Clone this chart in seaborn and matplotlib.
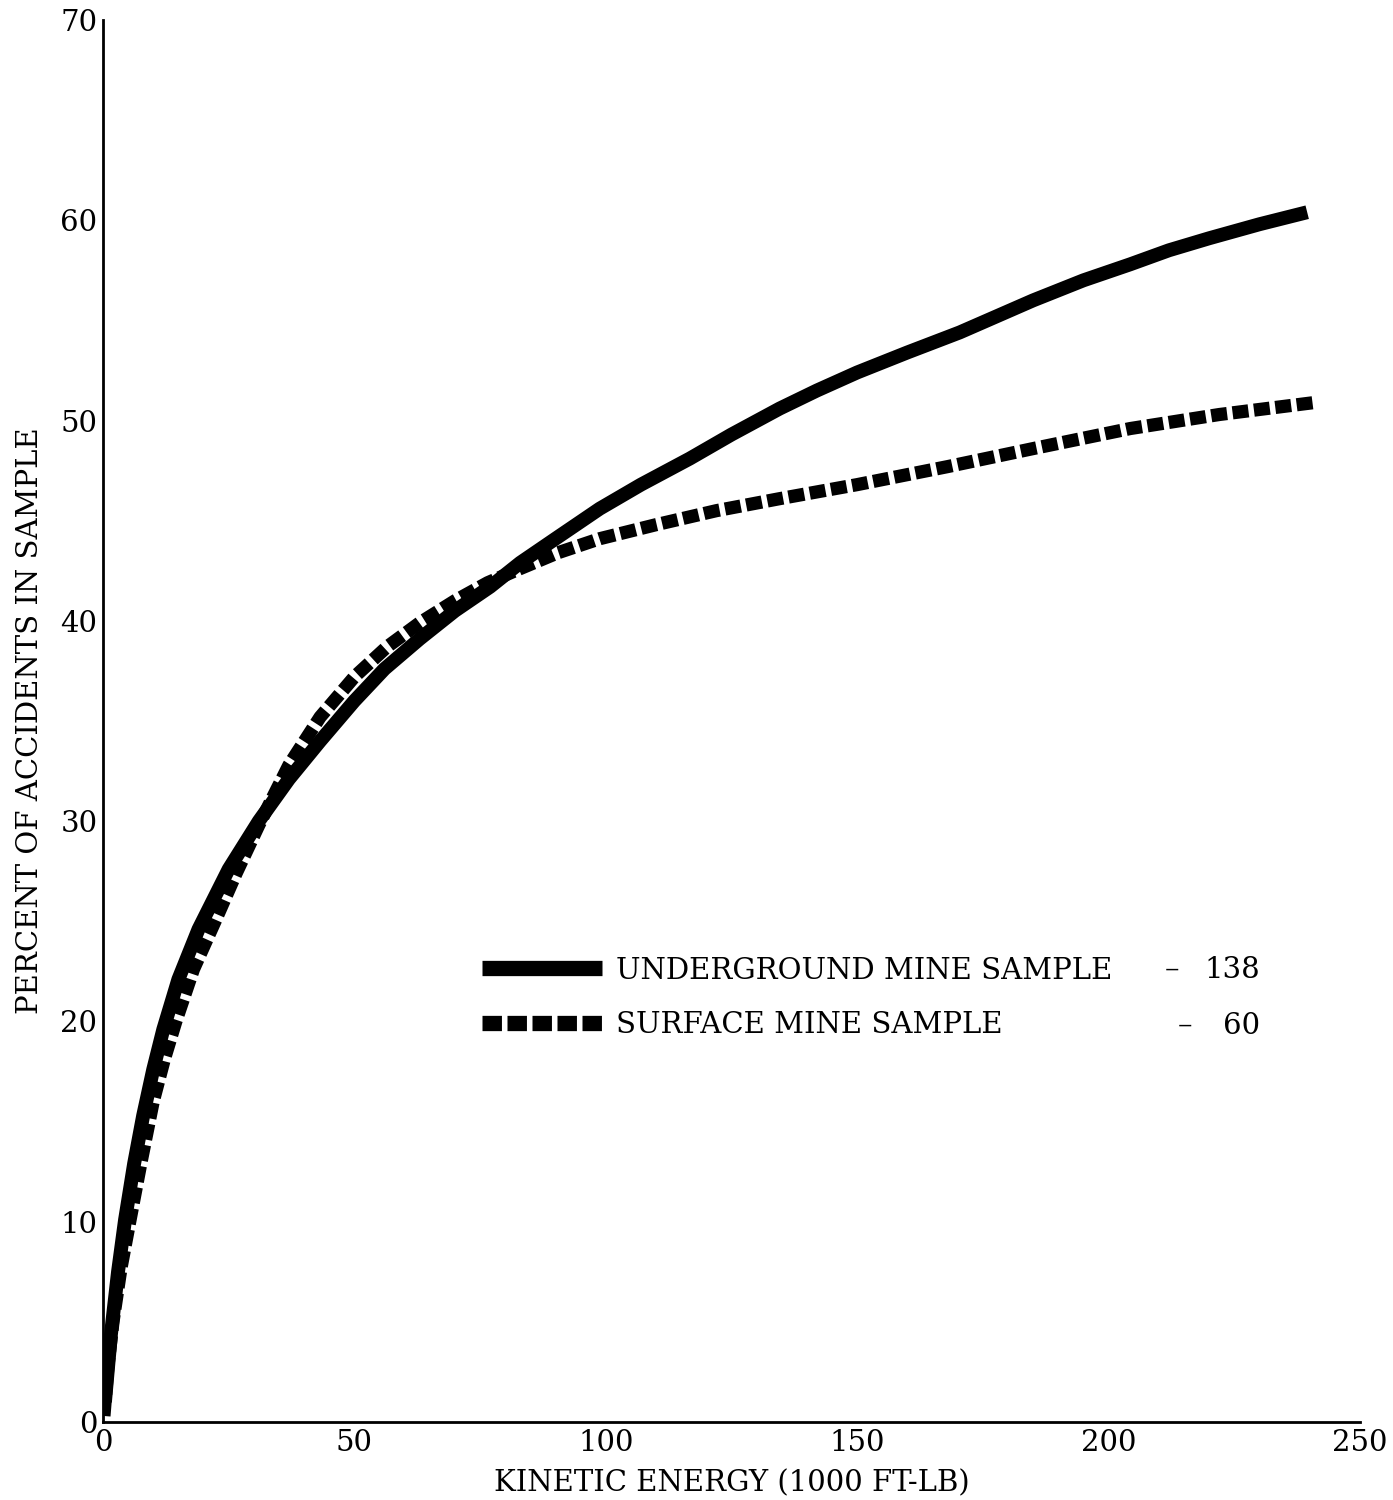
import numpy as np
import pandas as pd
import seaborn as sns
import matplotlib
matplotlib.use("Agg")
import matplotlib.pyplot as plt
from matplotlib.lines import Line2D

# ---- data ----
underground_x = [0.4, 1.6, 3.0, 4.4, 6.2, 8.0, 10.0, 12.0, 15.0, 19.0, 25.0, 31.0, 37.0,
                 43.2, 50.0, 56.0, 63.0, 70.0, 77.0, 83.0, 90.0, 98.8, 107.0, 116.7,
                 125.0, 134.6, 142.0, 150.0, 160.0, 170.4, 185.0, 195.0, 204.3, 212.0,
                 220.0, 230.0, 239.5]
underground_y = [1.0, 4.4, 7.5, 10.1, 12.9, 15.3, 17.6, 19.6, 22.1, 24.6, 27.6, 30.0, 32.1,
                 34.0, 36.0, 37.6, 39.1, 40.5, 41.7, 42.9, 44.1, 45.6, 46.8, 48.1,
                 49.3, 50.6, 51.5, 52.4, 53.4, 54.4, 56.0, 57.0, 57.8, 58.5,
                 59.1, 59.8, 60.4]

surface_x = [0.2, 1.0, 2.0, 3.6, 5.4, 7.6, 10.0, 12.2, 14.5, 18.0, 22.3, 26.5, 31.0, 37.0,
             43.2, 50.0, 56.5, 63.0, 70.0, 76.5, 82.9, 90.5, 98.8, 110.0, 122.0, 134.6,
             150.0, 168.0, 185.0, 204.3, 222.0, 241.0]
surface_y = [0.3, 2.8, 5.0, 7.7, 10.1, 13.0, 16.0, 18.1, 20.0, 22.6, 25.0, 27.4, 29.8, 32.8,
             35.2, 37.2, 38.7, 39.9, 41.0, 41.9, 42.6, 43.4, 44.1, 44.8, 45.5, 46.1,
             46.8, 47.7, 48.6, 49.6, 50.3, 50.9]

x_ticks = [0, 50, 100, 150, 200, 250]
y_ticks = [0, 10, 20, 30, 40, 50, 60, 70]

labels = ["UNDERGROUND MINE SAMPLE", "SURFACE MINE SAMPLE"]
counts = ["138", "60"]

xlabel = "KINETIC ENERGY (1000 FT-LB)"
ylabel = "PERCENT OF ACCIDENTS IN SAMPLE"

# ---- styling ----
sns.set_theme(style="white")
plt.rcParams["font.family"] = ["DejaVu Serif", "DejaVu Sans"]
plt.rcParams["axes.edgecolor"] = "black"
plt.rcParams["axes.labelcolor"] = "black"
plt.rcParams["text.color"] = "black"
plt.rcParams["xtick.color"] = "black"
plt.rcParams["ytick.color"] = "black"
plt.rcParams["xtick.labelcolor"] = "black"
plt.rcParams["ytick.labelcolor"] = "black"

FS = 21

fig = plt.figure(figsize=(13.93, 15), dpi=100)
ax = fig.add_axes([0.0739, 0.052, 0.9024, 0.9347])

df_u = pd.DataFrame({"x": underground_x, "y": underground_y})
df_s = pd.DataFrame({"x": surface_x, "y": surface_y})

lw_solid = 10.0
lw_dash = 9.5
sns.lineplot(data=df_u, x="x", y="y", ax=ax, color="black", linewidth=lw_solid,
             sort=False, estimator=None, legend=False, solid_capstyle="butt")
sns.lineplot(data=df_s, x="x", y="y", ax=ax, color="black", linewidth=lw_dash,
             sort=False, estimator=None, legend=False)
ax.lines[1].set_linestyle((0, (11.5 / lw_dash, 4.0 / lw_dash)))
ax.lines[1].set_dash_capstyle("butt")
for ln in ax.lines:
    ln.set_solid_joinstyle("round")
    ln.set_dash_joinstyle("round")

ax.set_xlim(0, 250)
ax.set_ylim(0, 70)
ax.set_xticks(x_ticks)
ax.set_yticks(y_ticks)
ax.set_xticklabels([str(t) for t in x_ticks], fontsize=FS)
ax.set_yticklabels([str(t) for t in y_ticks], fontsize=FS)
ax.tick_params(axis="both", direction="in", length=13, width=1.8,
               colors="black", labelcolor="black")
ax.tick_params(axis="x", pad=5)
ax.tick_params(axis="y", pad=4)

for side in ["top", "right"]:
    ax.spines[side].set_visible(False)
for side in ["left", "bottom"]:
    ax.spines[side].set_linewidth(2.0)
    ax.spines[side].set_color("black")

ax.set_xlabel(xlabel, fontsize=FS, labelpad=9, color="black")
ax.set_ylabel(ylabel, fontsize=FS, labelpad=12, color="black")

# legend
h_solid = Line2D([], [], color="black", linewidth=11, solid_capstyle="butt")
h_dash = Line2D([], [], color="black", linewidth=11,
                linestyle=(0, (14.0 / 11, 4.0 / 11)), dash_capstyle="butt")
leg = ax.legend([h_solid, h_dash], labels, loc="center left",
                bbox_to_anchor=(0.3015, 0.3024), frameon=False, fontsize=FS,
                handlelength=4.1, handletextpad=0.5, labelspacing=0.92,
                borderpad=0, borderaxespad=0, labelcolor="black")

ax.text(0.8505, 0.3224, "–", transform=ax.transAxes, fontsize=FS, ha="center", va="center")
ax.text(0.8608, 0.2825, "–", transform=ax.transAxes, fontsize=FS, ha="center", va="center")
ax.text(0.9205, 0.3224, counts[0], transform=ax.transAxes, fontsize=FS, ha="right", va="center")
ax.text(0.9205, 0.2825, counts[1], transform=ax.transAxes, fontsize=FS, ha="right", va="center")

fig.savefig("out.png", dpi=100, facecolor="white")
